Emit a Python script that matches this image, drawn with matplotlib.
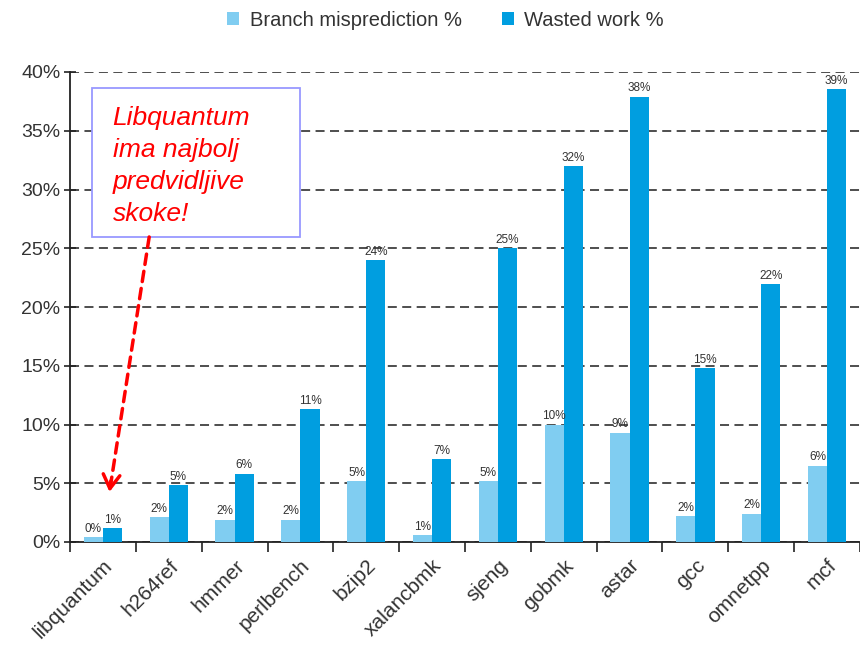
import matplotlib.pyplot as plt
import numpy as np
from matplotlib.patches import Rectangle

plt.rcParams['font.family'] = ['Liberation Sans', 'DejaVu Sans']

# SPEC benchmarks, % per program
benchmarks = ['libquantum', 'h264ref', 'hmmer', 'perlbench', 'bzip2', 'xalancbmk',
              'sjeng', 'gobmk', 'astar', 'gcc', 'omnetpp', 'mcf']
mispredict = [0.4, 2.1, 1.9, 1.9, 5.2, 0.6, 5.2, 10.0, 9.3, 2.2, 2.4, 6.5]
wasted = [1.2, 4.85, 5.8, 11.3, 24.0, 7.05, 25.0, 32.0, 37.9, 14.8, 21.95, 38.55]

light = '#80CDF1'
dark = '#009EE0'
txt = '#333333'

fig = plt.figure(figsize=(8.6, 6.46), dpi=100)
ax = fig.add_axes([70 / 860, 104 / 646, 790 / 860, 470 / 646])

x = np.arange(len(benchmarks))
w = 0.29
b1 = ax.bar(x - w / 2, mispredict, w, color=light, label='Branch misprediction %', zorder=3)
b2 = ax.bar(x + w / 2, wasted, w, color=dark, label='Wasted work %', zorder=3)

for bars, vals in ((b1, mispredict), (b2, wasted)):
    for r, v in zip(bars, vals):
        ax.text(r.get_x() + r.get_width() / 2, v + 0.2, f'{v:.0f}%', ha='center', va='bottom',
                fontsize=8.5, color=txt, zorder=4)

ax.set_xlim(-0.5, -0.5 + 790 / 66.5)
ax.set_ylim(0, 40)
ax.set_yticks(range(0, 41, 5))
ax.set_yticklabels([f'{t}%' for t in range(0, 41, 5)], fontsize=14, color=txt)
ax.yaxis.grid(True, ls=(0, (5, 3)), color='#404040', lw=1.3, zorder=1)
ax.tick_params(axis='y', direction='inout', length=8, width=1.2, color='#222222', pad=3)

ax.set_xticks(x)
ax.set_xticklabels(benchmarks, rotation=45, ha='right', va='top', rotation_mode='anchor',
                   fontsize=15, color=txt)
ax.tick_params(axis='x', which='major', length=0, pad=10)
ax.set_xticks(np.arange(-0.5, 12, 1), minor=True)
ax.tick_params(axis='x', which='minor', direction='out', length=7, width=1.2, color='#222222')

for s in ('top', 'right'):
    ax.spines[s].set_visible(False)
for s in ('left', 'bottom'):
    ax.spines[s].set_color('#222222')
    ax.spines[s].set_linewidth(1.3)

# note box with arrow down to libquantum
ax.add_patch(Rectangle((-0.169, 25.96), 3.16, 12.68, fill=True, facecolor='white',
                       edgecolor='#9999FF', lw=1.3, zorder=5))
ax.text(0.147, 37.1, 'Libquantum\nima najbolj\npredvidljive\nskoke!', color='red', fontsize=19,
        style='italic', ha='left', va='top', linespacing=1.42, zorder=6)
ax.annotate('', xy=(0.10, 4.26), xytext=(0.703, 25.96),
            arrowprops=dict(arrowstyle='-', color='red', lw=2.5, ls=(0, (3, 2)),
                            shrinkA=0, shrinkB=0), zorder=6)
ax.annotate('', xy=(0.10, 4.26), xytext=(0.12, 5.2),
            arrowprops=dict(arrowstyle='->,head_length=1.0,head_width=0.6', color='red', lw=2.5,
                            shrinkA=0, shrinkB=0), zorder=6)

fig.legend(handles=[b1, b2], loc='center', bbox_to_anchor=(0.518, 0.969), ncol=2, frameon=False,
           fontsize=14.5, handlelength=0.6, handleheight=0.6, handletextpad=0.5, columnspacing=2.0,
           labelcolor=txt)

fig.savefig('out.png', dpi=100)
